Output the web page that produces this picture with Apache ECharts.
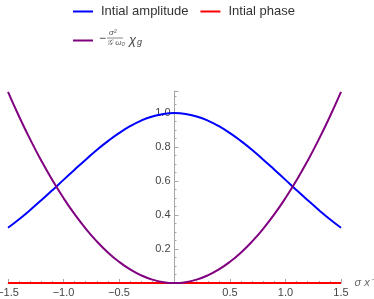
<!DOCTYPE html>
<html><head><meta charset="utf-8">
<script src="https://cdn.jsdelivr.net/npm/echarts@6/dist/echarts.min.js"></script>
<style>html,body{margin:0;padding:0;background:#fff}#c{width:374px;height:299px}</style>
</head><body><div id="c"></div>
<script>
const xValues = [-1.5,-1.4,-1.3,-1.2,-1.1,-1.0,-0.9,-0.8,-0.7,-0.6,-0.5,-0.4,-0.3,-0.2,-0.1,0,0.1,0.2,0.3,0.4,0.5,0.6,0.7,0.8,0.9,1.0,1.1,1.2,1.3,1.4,1.5];
const amplitude = [0.325,0.375,0.430,0.487,0.546,0.607,0.667,0.726,0.783,0.835,0.882,0.923,0.956,0.980,0.995,1.0,0.995,0.980,0.956,0.923,0.882,0.835,0.783,0.726,0.667,0.607,0.546,0.487,0.430,0.375,0.325];
const phase = [0,0,0,0,0,0,0,0,0,0,0,0,0,0,0,0,0,0,0,0,0,0,0,0,0,0,0,0,0,0,0];
const chiG = [1.125,0.98,0.845,0.72,0.605,0.5,0.405,0.32,0.245,0.18,0.125,0.08,0.045,0.02,0.005,0,0.005,0.02,0.045,0.08,0.125,0.18,0.245,0.32,0.405,0.5,0.605,0.72,0.845,0.98,1.125];
const seriesNames = ['Intial amplitude','Intial phase','chi_g'];
const xTicks = {min:-1.5, max:1.5, interval:0.5};
const yTicks = {min:0, max:1.13, interval:0.2};

const pairs = a => xValues.map((x,i)=>[x,a[i]]);
const font = 'Liberation Sans, Arial, sans-serif';
const axisCol = '#a6a6a6';
const gridLeft = 8, gridRight = 33;
const chart = echarts.init(document.getElementById('c'), null, {renderer:'canvas'});
const plotW = 374 - gridLeft - gridRight;
const zeroOffset = -plotW * (0 - xTicks.min) / (xTicks.max - xTicks.min);
chart.setOption({
  animation:false,
  grid:{left:gridLeft,right:gridRight,top:91,bottom:16,containLabel:false,outerBoundsMode:'none'},
  legend:[
    {data:[seriesNames[0],seriesNames[1]],left:73,top:5,padding:0,icon:'rect',itemWidth:20,itemHeight:2,itemGap:12,
     textStyle:{fontFamily:font,fontSize:13,color:'#333',padding:[0,0,0,3]}},
    {data:[seriesNames[2]],left:73,top:34,padding:0,icon:'rect',itemWidth:20,itemHeight:2,
     formatter:()=>' ', textStyle:{fontSize:13,width:50}}
  ],
  xAxis:{type:'value',min:xTicks.min,max:xTicks.max,interval:xTicks.interval,
    name:'σ x\u207B',nameLocation:'end',nameGap:10,
    nameTextStyle:{fontFamily:font,fontSize:11,fontStyle:'italic',color:'#666'},
    axisLine:{onZero:true,lineStyle:{color:axisCol,width:1}},
    axisTick:{inside:true,length:4,lineStyle:{color:axisCol}},
    minorTick:{show:true,splitNumber:5,length:2,lineStyle:{color:axisCol}},
    splitLine:{show:false},
    axisLabel:{margin:4,fontFamily:font,fontSize:11,color:'#444',
      formatter:v=>Math.abs(v)<1e-9?'':v.toFixed(1).replace('-','\u2212')}},
  yAxis:{type:'value',min:yTicks.min,max:yTicks.max,interval:yTicks.interval,
    position:'left',offset:zeroOffset,
    axisLine:{onZero:false,lineStyle:{color:axisCol,width:1}},
    axisTick:{inside:true,length:4,lineStyle:{color:axisCol}},
    minorTick:{show:true,splitNumber:4,length:2,lineStyle:{color:axisCol}},
    splitLine:{show:false},
    axisLabel:{showMinLabel:false,showMaxLabel:false,margin:4,fontFamily:font,fontSize:11,color:'#444',
      formatter:v=>v.toFixed(1)}},
  series:[
    {name:seriesNames[0],type:'line',data:pairs(amplitude),smooth:true,symbol:'none',
     lineStyle:{color:'#0000ff',width:2},itemStyle:{color:'#0000ff'}},
    {name:seriesNames[1],type:'line',data:pairs(phase),symbol:'none',
     lineStyle:{color:'#ff0000',width:2},itemStyle:{color:'#ff0000'}},
    {name:seriesNames[2],type:'line',data:pairs(chiG),smooth:true,symbol:'none',
     lineStyle:{color:'#800080',width:2},itemStyle:{color:'#800080'}}
  ],
  graphic:[
    {type:'text',left:99,top:33,style:{text:'\u2212',font:'12px '+font,fill:'#444'}},
    {type:'text',left:109,top:29,style:{text:'σ²',font:'italic 8px '+font,fill:'#555'}},
    {type:'line',shape:{x1:107,y1:38,x2:123,y2:38},style:{stroke:'#555',lineWidth:0.7}},
    {type:'text',left:107,top:39,style:{text:'𝒢 ω₀',font:'italic 8px '+font,fill:'#555'}},
    {type:'text',left:129,top:34,style:{text:'χ',font:'italic 13px '+font,fill:'#444'}},
    {type:'text',left:137,top:38,style:{text:'g',font:'italic 9px '+font,fill:'#444'}}
  ]
});
</script></body></html>
